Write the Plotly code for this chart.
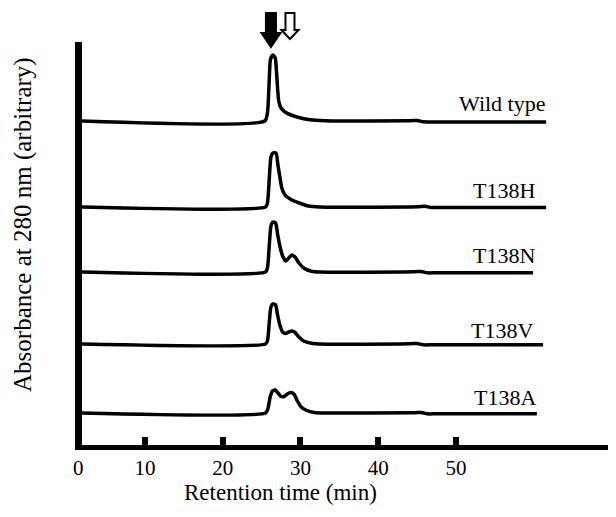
import plotly.graph_objects as go

# ---- data (retention time in min, absorbance above each baseline in arbitrary units) ----
SAMPLES = ["Wild type", "T138H", "T138N", "T138V", "T138A"]
BASELINES = [32.4, 23.8, 17.3, 10.1, 3.2]

WT_T = [1.9, 25.4, 25.75, 25.95, 26.15, 26.45, 26.75, 26.95, 27.2, 27.5, 28.0, 28.8, 29.8, 31.0, 32.5, 34.0, 44.0, 45.0, 45.8, 47.0, 61.6]
WT_Y = [0.0, 0.0, 0.8, 3.5, 6.2, 6.6, 6.3, 4.5, 2.0, 1.3, 0.9, 0.6, 0.35, 0.15, 0.05, 0.0, 0.02, 0.06, -0.08, -0.1, -0.1]

H_T = [1.9, 25.5, 25.75, 26.0, 26.2, 26.45, 26.85, 27.1, 27.35, 27.6, 28.0, 28.9, 30.2, 31.0, 32.5, 45.0, 46.0, 46.8, 48.0, 61.6]
H_Y = [0.0, 0.0, 0.4, 3.0, 5.0, 5.4, 5.4, 4.2, 3.0, 1.9, 1.2, 0.7, 0.3, 0.1, 0.0, 0.02, 0.08, -0.05, -0.05, -0.05]

N_T = [1.9, 25.5, 25.75, 26.0, 26.2, 26.45, 26.8, 27.05, 27.35, 27.7, 28.1, 28.5, 28.9, 29.3, 29.8, 30.5, 31.4, 32.5, 44.5, 45.5, 46.3, 47.5, 59.9]
N_Y = [0.0, 0.0, 0.4, 2.8, 4.6, 5.0, 4.9, 3.8, 2.6, 1.6, 1.1, 1.4, 1.7, 1.5, 0.9, 0.35, 0.08, 0.0, 0.02, 0.06, -0.08, -0.08, -0.08]

V_T = [1.9, 25.5, 25.75, 26.0, 26.2, 26.45, 26.8, 27.05, 27.35, 27.7, 28.1, 28.5, 28.9, 29.3, 29.8, 30.4, 31.4, 32.5, 44.0, 45.0, 45.8, 47.0, 61.2]
V_Y = [0.0, 0.0, 0.3, 2.3, 3.7, 4.0, 3.9, 2.9, 1.9, 1.2, 1.05, 1.2, 1.3, 1.15, 0.7, 0.3, 0.08, 0.0, 0.02, 0.06, -0.08, -0.08, -0.08]

A_T = [1.9, 25.5, 25.8, 26.1, 26.4, 26.75, 27.1, 27.5, 27.9, 28.3, 28.75, 29.15, 29.6, 30.1, 30.8, 31.8, 33.0, 44.5, 45.5, 46.3, 47.5, 60.4]
A_Y = [0.0, 0.0, 0.4, 1.6, 2.2, 2.3, 2.0, 1.65, 1.65, 1.9, 2.05, 1.9, 1.2, 0.6, 0.25, 0.05, 0.0, 0.02, 0.06, -0.08, -0.08, -0.08]

LABEL_T = [61.8, 60.4, 60.4, 60.2, 60.6]
LABEL_DY = [1.8, 1.7, 1.7, 1.4, 1.6]

TICK_VALS = [10, 20, 30, 40, 50]
TICK_TEXT = ["10", "20", "30", "40", "50"]
ZERO_LABEL = "0"

ARROW_T = [26.2, 28.65]     # filled (left) and open (right) arrows
ARROW_FILL = ["black", "white"]

X_TITLE = "Retention time (min)"
Y_TITLE = "Absorbance at 280 nm (arbitrary)"

SERIES_T = [WT_T, H_T, N_T, V_T, A_T]
SERIES_Y = [WT_Y, H_Y, N_Y, V_Y, A_Y]

FONT = "Liberation Serif, Times New Roman, serif"

fig = go.Figure()
for name, base, ts, ys in zip(SAMPLES, BASELINES, SERIES_T, SERIES_Y):
    fig.add_trace(go.Scatter(
        x=ts, y=[base + v for v in ys], mode="lines", name=name,
        line=dict(color="black", width=3.5, shape="spline", smoothing=0.6),
        hoverinfo="skip"))

annotations = []
for name, base, lt, dy in zip(SAMPLES, BASELINES, LABEL_T, LABEL_DY):
    annotations.append(dict(x=lt, y=base + dy, xref="x", yref="y", text=name,
                            showarrow=False, xanchor="right", yanchor="middle",
                            font=dict(family=FONT, size=22, color="black")))

annotations.append(dict(x=0, y=0, xref="paper", yref="paper", text=ZERO_LABEL,
                        showarrow=False, xanchor="center", yanchor="middle",
                        xshift=-4, yshift=-23,
                        font=dict(family=FONT, size=21, color="black")))
annotations.append(dict(x=0, y=0, xref="paper", yref="paper", text=X_TITLE,
                        showarrow=False, xanchor="center", yanchor="middle",
                        xshift=198, yshift=-47,
                        font=dict(family=FONT, size=23, color="black")))
annotations.append(dict(x=0, y=0.546, xref="paper", yref="paper", text=Y_TITLE,
                        showarrow=False, xanchor="center", yanchor="middle",
                        textangle=-90, xshift=-59,
                        font=dict(family=FONT, size=25, color="black")))

# block arrows (paper y above the plot, x in data units)
shapes = []
plot_h = 403.0
def py2paper(py):
    return (437.0 - py) / plot_h
px_per_min = 7.775
specs = [  # shaft half width, head half width, top, head start, tip (figure px)
    (5.0, 9.5, 5, 25, 39),
    (4.5, 8.5, 5, 22, 31),
]
for t, fill, (sw, hw, top, hs, tip) in zip(ARROW_T, ARROW_FILL, specs):
    s = sw / px_per_min
    h = hw / px_per_min
    pts = [(t - s, top), (t + s, top), (t + s, hs), (t + h, hs), (t, tip),
           (t - h, hs), (t - s, hs)]
    path = "M " + " L ".join(f"{x:.4f},{py2paper(y):.4f}" for x, y in pts) + " Z"
    shapes.append(dict(type="path", xref="x", yref="paper", path=path,
                       fillcolor=fill, line=dict(color="black", width=2)))

fig.update_layout(
    width=608, height=509, autosize=False,
    margin=dict(l=74, r=0, t=34, b=72),
    plot_bgcolor="white", paper_bgcolor="white",
    showlegend=False,
    annotations=annotations, shapes=shapes,
    xaxis=dict(range=[1.9, 70.58], showline=True, linewidth=5, linecolor="black",
               ticks="inside", ticklen=8, tickwidth=6, tickcolor="black",
               tickvals=TICK_VALS, ticktext=TICK_TEXT,
               tickfont=dict(family=FONT, size=21, color="black"),
               showgrid=False, zeroline=False, fixedrange=True),
    yaxis=dict(range=[0, 40.3], showline=True, linewidth=7, linecolor="black",
               ticks="", showticklabels=False, showgrid=False, zeroline=False,
               fixedrange=True),
)

fig.write_html("out.html")
